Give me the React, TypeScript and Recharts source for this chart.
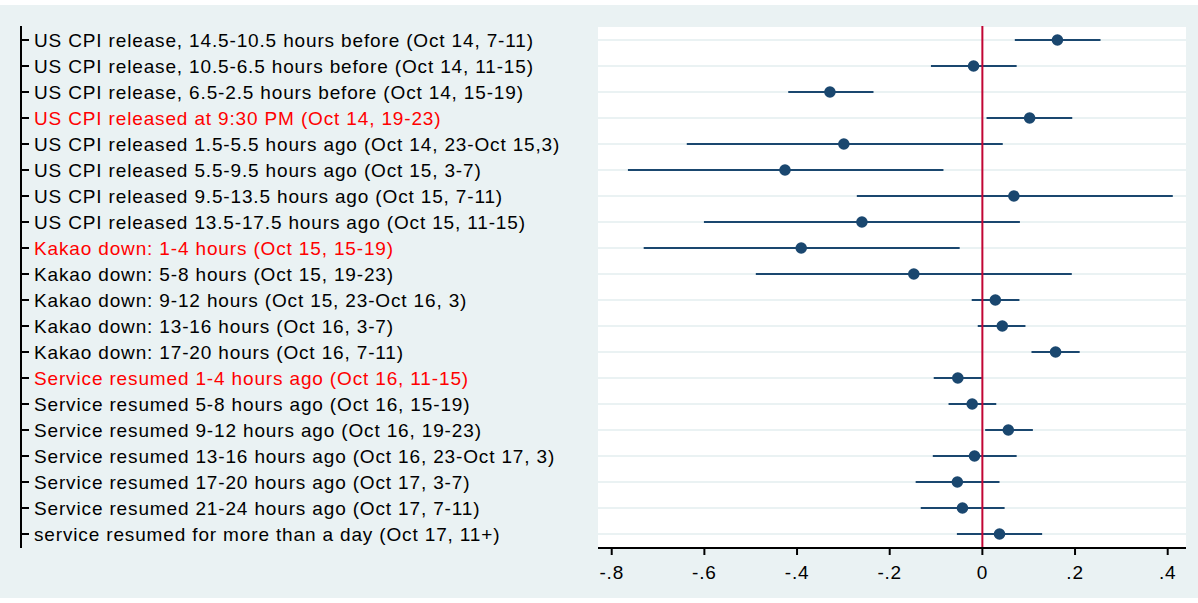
import { ScatterChart, Scatter, XAxis, YAxis, CartesianGrid, ReferenceLine, ErrorBar } from "recharts"

const LABELS = [
  "US CPI release, 14.5-10.5 hours before (Oct 14, 7-11)",
  "US CPI release, 10.5-6.5 hours before (Oct 14, 11-15)",
  "US CPI release, 6.5-2.5 hours before (Oct 14, 15-19)",
  "US CPI released at 9:30 PM (Oct 14, 19-23)",
  "US CPI released 1.5-5.5 hours ago (Oct 14, 23-Oct 15,3)",
  "US CPI released 5.5-9.5 hours ago (Oct 15, 3-7)",
  "US CPI released 9.5-13.5 hours ago (Oct 15, 7-11)",
  "US CPI released 13.5-17.5 hours ago (Oct 15, 11-15)",
  "Kakao down: 1-4 hours (Oct 15, 15-19)",
  "Kakao down: 5-8 hours (Oct 15, 19-23)",
  "Kakao down: 9-12 hours (Oct 15, 23-Oct 16, 3)",
  "Kakao down: 13-16 hours (Oct 16, 3-7)",
  "Kakao down: 17-20 hours (Oct 16, 7-11)",
  "Service resumed 1-4 hours ago (Oct 16, 11-15)",
  "Service resumed 5-8 hours ago (Oct 16, 15-19)",
  "Service resumed 9-12 hours ago (Oct 16, 19-23)",
  "Service resumed 13-16 hours ago (Oct 16, 23-Oct 17, 3)",
  "Service resumed 17-20 hours ago (Oct 17, 3-7)",
  "Service resumed 21-24 hours ago (Oct 17, 7-11)",
  "service resumed for more than a day (Oct 17, 11+)",
]

const ESTIMATES = [0.162, -0.019, -0.329, 0.102, -0.299, -0.426, 0.068, -0.26, -0.391, -0.148, 0.028, 0.043, 0.158, -0.053, -0.022, 0.056, -0.017, -0.054, -0.043, 0.037]
const CI_LOW = [0.07, -0.111, -0.419, 0.009, -0.638, -0.765, -0.271, -0.601, -0.731, -0.489, -0.023, -0.01, 0.106, -0.105, -0.073, 0.006, -0.107, -0.144, -0.133, -0.055]
const CI_HIGH = [0.255, 0.074, -0.235, 0.194, 0.044, -0.084, 0.411, 0.081, -0.049, 0.193, 0.08, 0.093, 0.21, -0.001, 0.03, 0.109, 0.074, 0.037, 0.048, 0.129]

// rows whose label is drawn in red (1-based)
const RED_ROWS = [4, 9, 14]

const X_TICKS = [-0.8, -0.6, -0.4, -0.2, 0, 0.2, 0.4]
const X_TICK_LABELS = ["-.8", "-.6", "-.4", "-.2", "0", ".2", ".4"]

const NAVY = "#1A476F"
const CRANBERRY = "#C10534"
const BG = "#EAF2F3"
const FONT = "'Liberation Sans', Arial, Helvetica, sans-serif"
const AXIS_X = 21

const rows = LABELS.map((label, i) => ({
  row: i + 1,
  label,
  est: ESTIMATES[i],
  err: [ESTIMATES[i] - CI_LOW[i], CI_HIGH[i] - ESTIMATES[i]],
}))

const rowTicks = rows.map((r) => r.row)

function RowLabel(props: any) {
  const { y, payload } = props
  const n = payload.value
  const red = RED_ROWS.includes(n)
  return (
    <g>
      <line x1={AXIS_X} x2={AXIS_X + 8} y1={y} y2={y} stroke="#000" strokeWidth={2} />
      <text
        x={AXIS_X + 13}
        y={y}
        dy="0.35em"
        textAnchor="start"
        fontFamily={FONT}
        fontSize={19}
        letterSpacing={0.85}
        fill={red ? "#FF0000" : "#000"}
      >
        {LABELS[n - 1]}
      </text>
    </g>
  )
}

function Dot(props: any) {
  const { cx, cy } = props
  return <circle cx={cx} cy={cy} r={5.8} fill={NAVY} />
}

export default function App() {
  return (
    <div style={{ position: "absolute", left: 0, top: 0, width: 1198, height: 603, background: "#fff" }}>
      <div style={{ position: "absolute", left: 0, top: 5, width: 1198, height: 593, background: BG }}>
        <ScatterChart width={1198} height={593} margin={{ top: 21, right: 12, left: 20, bottom: 10 }}>
          <CartesianGrid
            yAxisId="alab"
            horizontal={true}
            vertical={false}
            fill="#fff"
            stroke={BG}
            strokeWidth={2}
          />
          <XAxis
            type="number"
            dataKey="est"
            domain={[-0.8296, 0.4395]}
            allowDataOverflow
            ticks={X_TICKS}
            interval={0}
            tickFormatter={(v: number) => X_TICK_LABELS[X_TICKS.indexOf(v)]}
            height={40}
            tickSize={7}
            tickMargin={11}
            axisLine={{ stroke: "#000", strokeWidth: 2 }}
            tickLine={{ stroke: "#000", strokeWidth: 2 }}
            tick={{ fill: "#000", fontSize: 19, fontFamily: FONT, letterSpacing: 0.8 }}
          />
          <YAxis
            yAxisId="alab"
            type="number"
            dataKey="row"
            reversed
            domain={[0.4615, 20.5385]}
            allowDataOverflow
            ticks={rowTicks}
            interval={0}
            width={577}
            axisLine={false}
            tickLine={false}
            tick={<RowLabel />}
          />
          <YAxis
            yAxisId="zframe"
            type="number"
            reversed
            domain={[0.4615, 20.5385]}
            width={1}
            tick={false}
            tickLine={false}
            axisLine={{ stroke: "#000", strokeWidth: 2 }}
          />
          <Scatter yAxisId="alab" data={rows} shape={<Dot />} isAnimationActive={false}>
            <ErrorBar dataKey="err" direction="x" width={0} stroke={NAVY} strokeWidth={2} isAnimationActive={false} />
          </Scatter>
          <ReferenceLine yAxisId="alab" x={0} stroke={CRANBERRY} strokeWidth={2} />
        </ScatterChart>
      </div>
    </div>
  )
}
